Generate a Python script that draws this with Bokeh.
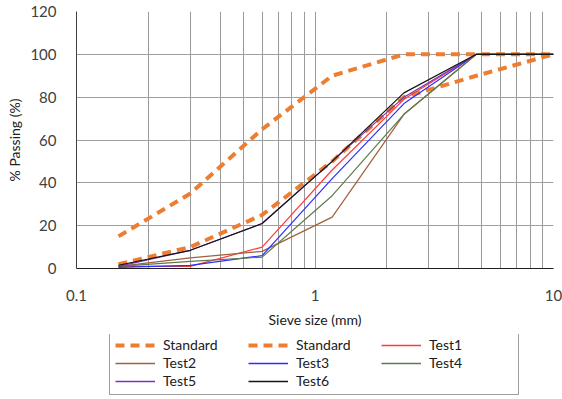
from bokeh.plotting import figure
from bokeh.layouts import column
from bokeh.models import (Legend, LegendItem, FixedTicker, Range1d,
                          CustomJSTickFormatter)
from bokeh.embed import file_html
from bokeh.resources import INLINE

# Sieve sizes (mm) and percent passing for each gradation curve
sieve_mm = [0.15, 0.3, 0.6, 1.18, 2.36, 4.75, 10]
standard_upper = [15, 35, 65, 90, 100, 100, 100]
standard_lower = [2, 10, 25, 50, 80, 90, 100]
test1 = [1, 1, 10, 46, 79, 100, 100]
test2 = [1, 5, 8, 24, 72, 100, 100]
test3 = [0.5, 1.5, 6, 42, 77, 100, 100]
test4 = [1, 3.3, 5.3, 34, 72, 100, 100]
test5 = [1, 8.5, 21, 50, 80, 100, 100]
test6 = [1.5, 8.5, 21, 50, 82, 100, 100]

x_major = [0.1, 1, 10]
x_minor = [0.2, 0.3, 0.4, 0.5, 0.6, 0.7, 0.8, 0.9, 2, 3, 4, 5, 6, 7, 8, 9]
y_ticks = [0, 20, 40, 60, 80, 100, 120]

FONT = "Lato"
TEXT = "#404040"

p = figure(frame_width=477, frame_height=257, x_axis_type="log",
           x_range=Range1d(0.1, 10), y_range=Range1d(0, 120),
           output_backend="svg", toolbar_location=None,
           min_border_left=76, min_border_right=9, min_border_top=11,
           min_border_bottom=66)
p.outline_line_color = None
p.background_fill_color = "white"

# axes
p.xaxis.ticker = FixedTicker(ticks=x_major, minor_ticks=x_minor)
p.xaxis.formatter = CustomJSTickFormatter(code="return String(tick);")
p.yaxis.ticker = FixedTicker(ticks=y_ticks)
for ax in (p.xaxis[0], p.yaxis[0]):
    ax.major_tick_out = 0
    ax.major_tick_in = 0
    ax.minor_tick_out = 0
    ax.minor_tick_in = 0
    ax.major_label_text_font = FONT
    ax.major_label_text_font_size = "15px"
    ax.major_label_text_color = TEXT
    ax.axis_label_text_font = FONT
    ax.axis_label_text_font_size = "14px"
    ax.axis_label_text_font_style = "normal"
    ax.axis_label_text_color = "#202020"
p.xaxis.axis_line_color = "#202020"
p.yaxis.axis_line_color = "#404040"
p.xaxis.axis_label = "Sieve size (mm)"
p.yaxis.axis_label = "% Passing (%)"
p.xaxis.major_label_standoff = 21
p.xaxis.axis_label_standoff = 7
p.yaxis.major_label_standoff = 20
p.yaxis.axis_label_standoff = 4

# grid
p.xgrid.grid_line_color = "#9a9a9a"
p.xgrid.minor_grid_line_color = "#9a9a9a"
p.ygrid.grid_line_color = "#a0a0a0"
p.ygrid.grid_line_width = 1.2

dash_kw = dict(line_color="#ED7D31", line_width=4, line_dash="9 6")
p.line(sieve_mm, standard_upper, **dash_kw)
p.line(sieve_mm, standard_lower, **dash_kw)

series = [("Test1", test1, "#FF3B3B"), ("Test2", test2, "#A0603A"),
          ("Test3", test3, "#2E2EFF"), ("Test4", test4, "#5E7A4E"),
          ("Test5", test5, "#7A35B0"), ("Test6", test6, "#151515")]
for name, vals, col in series:
    p.line(sieve_mm, vals, line_color=col, line_width=1.2)

# legend strip under the chart; its swatch lines sit outside its visible range
leg = figure(width=562, height=65, x_range=Range1d(0, 1), y_range=Range1d(0, 1),
             output_backend="svg", toolbar_location=None,
             min_border_left=0, min_border_right=0, min_border_top=0,
             min_border_bottom=0)
leg.axis.visible = False
leg.grid.visible = False
leg.outline_line_color = None

off_x, off_y = [-2, -1], [-2, -1]
items = [LegendItem(label="Standard", renderers=[leg.line(off_x, off_y, **dash_kw)]),
         LegendItem(label="Standard", renderers=[leg.line(off_x, off_y, **dash_kw)])]
for name, vals, col in series:
    r = leg.line(off_x, off_y, line_color=col, line_width=1.4)
    items.append(LegendItem(label=name, renderers=[r]))

legend = Legend(items=items, orientation="horizontal", ncols=3,
                location=(33, 4), label_text_font=FONT,
                label_text_font_size="14px", label_text_color="#202020",
                label_text_line_height=1.0,
                glyph_width=40, glyph_height=12, label_standoff=8,
                spacing=1, padding=5, margin=0,
                border_line_color="#404040", border_line_width=1,
                label_height=14, label_width=84)
leg.add_layout(legend, "center")

open("out.html", "w").write(file_html(column(p, leg, spacing=0), INLINE))
